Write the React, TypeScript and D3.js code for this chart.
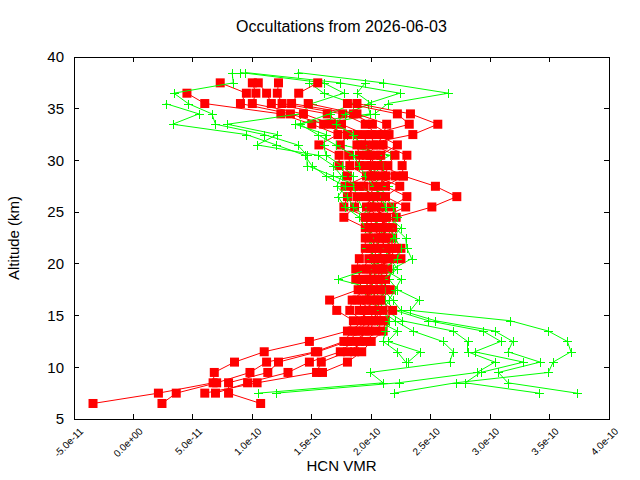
import { useEffect, useRef } from 'react'
import * as d3 from 'd3'

// HCN volume mixing ratio profiles, values in units of 1e-10
const redAltitudes = [
  6.5, 7.5, 8.5, 9.5, 10.5, 11.5, 12.5, 13.5, 14.5, 15.5, 16.5, 17.5, 18.5, 19.5, 20.5, 21.5,
  22.5, 23.5, 24.5, 25.5, 26.5, 27.5, 28.5, 29.5, 30.5, 31.5, 32.5, 33.5, 34.5, 35.5, 36.5, 37.5
]
const greenAltitudes = [
  7.5, 8.5, 9.5, 10.5, 11.5, 12.5, 13.5, 14.5, 15.5, 16.5, 17.5, 18.5, 19.5, 20.5, 21.5, 22.5,
  23.5, 24.5, 25.5, 26.5, 27.5, 28.5, 29.5, 30.5, 31.5, 32.5, 33.5, 34.5, 35.5, 36.5, 37.5, 38.5
]

const red1 = [-0.34, 0.21, 0.67, 0.68, 0.85, 1.10, 1.48, 1.80, 1.85, 1.71, 1.65, 1.89, 1.93, 1.87, 1.90, 1.95, 1.95, 2.03, 1.97, 1.77, 1.80, 1.85, 1.80, 1.73, 1.73, 1.56, 1.72, 1.50, 1.24, 0.60, 0.45, null]
const red2 = [0.24, 0.36, 0.70, 0.98, 1.12, 1.53, 1.77, 1.84, 1.92, 1.82, 1.84, 1.95, 1.87, 1.93, 1.98, 2.02, 2.02, 1.95, 1.77, 1.86, 1.88, 1.78, 1.96, 1.82, 1.81, 1.74, 1.80, 1.60, 1.32, 0.90, 0.95, 0.73]
const red3 = [1.07, 0.80, 0.80, 1.13, 1.22, 1.55, 1.80, 1.90, 1.97, 1.90, 1.92, 2.00, 1.98, 2.00, 2.05, 2.10, 2.10, 2.12, 2.07, 1.96, 2.00, 1.94, 2.09, 1.90, 1.90, 1.88, 1.88, 1.67, 1.43, 1.00, 1.03, 1.00]
const red4 = [null, 0.69, 0.96, 1.30, 1.48, 1.74, 1.85, 1.98, 2.03, 1.98, 2.00, 2.05, 2.05, 2.08, 2.12, 2.17, 2.18, 2.18, 2.04, 2.09, 2.08, 2.02, 2.20, 2.00, 1.99, 1.95, 1.95, 1.75, 1.63, 1.16, 1.12, 1.05]
const red5 = [null, 0.60, 1.04, 1.54, 1.58, 1.80, 1.95, 2.04, 2.10, 2.05, 2.07, 2.12, 2.12, 2.14, 2.20, 2.25, 2.14, 2.08, 2.00, 2.17, 2.30, 2.12, 2.27, 2.09, 2.08, 2.22, 2.05, 1.95, 1.76, 1.25, 1.21, 1.22]
const red6 = [null, null, null, 1.59, 1.80, 1.92, 2.00, 2.10, 2.12, 2.18, 2.08, 2.16, 2.02, 1.96, 2.25, 2.06, 1.98, 2.00, 2.21, 2.51, 2.72, 2.54, 2.27, 2.26, 2.30, 2.10, 2.15, 2.01, 1.85, 1.33, 1.39, 1.55]
const red7 = [null, null, null, null, null, 1.86, 1.90, 1.95, 2.00, 2.10, 1.96, 1.98, 1.95, 2.04, 2.02, 2.14, 2.06, 2.15, 2.10, 2.29, 2.12, 2.24, 2.03, 1.95, 2.04, 1.92, 2.35, 2.56, 2.33, 1.88, null, null]
const red8 = [null, null, null, null, null, null, null, 1.87, 1.95, 1.94, 2.03, 1.92, 2.08, 2.10, 2.08, 1.99, 2.12, 1.98, 1.95, 2.03, 1.95, 2.06, 2.12, 2.14, 2.20, 2.02, 2.00, 2.32, 2.22, 1.80, null, null]
const red9 = [null, null, null, null, null, null, null, null, 2.06, 2.01, 1.88, 2.08, 2.00, 2.06, 2.15, 2.21, 2.08, 2.06, 2.13, 2.00, 2.04, 1.90, 2.00, 2.06, 1.96, 2.05, 2.10, 2.13, 1.88, 1.47, null, null]

const green1 = [2.19, 2.71, 3.49, 3.53, 3.68, 3.65, 3.49, 3.17, 2.33, 2.40, 2.22, 2.15, 2.18, 2.34, 2.30, 2.29, 2.20, 2.10, 2.05, 1.98, 2.14, 2.05, 2.00, 2.16, 1.75, 1.80, 1.60, 2.03, 2.14, 2.65, 2.10, 1.38]
const green2 = [3.73, 3.15, 3.07, 3.42, 3.15, 3.19, 3.04, 2.54, 2.25, 2.18, 2.10, 2.05, 2.12, 2.10, 2.16, 2.12, 2.08, 2.02, 1.92, 1.88, 1.85, 1.85, 1.75, 1.62, 1.60, 1.62, 1.36, 1.99, 1.97, 2.24, 1.74, 0.94]
const green3 = [3.41, 2.79, 2.92, 3.28, 2.87, 3.09, 2.94, 2.48, 2.20, 2.12, 2.05, 1.72, 1.98, 2.05, 2.08, 2.04, 2.12, 1.96, 1.85, 1.80, 1.71, 1.75, 1.68, 1.55, 1.04, 1.21, 0.79, 1.40, 1.50, 1.77, 1.60, 0.90]
const green4 = [1.20, 2.23, 2.89, 3.04, 2.81, 2.81, 2.69, 2.26, 2.12, 2.05, 2.00, 2.02, 2.06, 2.00, 2.02, 1.98, 2.00, 1.92, 1.98, 2.05, 1.90, 1.68, 1.46, 1.46, 1.38, 1.10, 0.69, 0.66, 0.46, 0.34, 0.84, 0.83]
const green5 = [1.05, 2.10, 1.99, 2.66, 2.69, 2.60, 2.35, 2.20, 2.08, 2.00, 1.95, 1.98, 2.02, 2.06, 1.96, 2.02, 1.95, 1.90, 1.78, 1.72, 1.78, 1.62, 1.50, 1.44, 1.20, 0.95, 0.33, 0.55, 0.27, null, null, null]
const green6 = [null, null, null, 2.31, 2.41, 2.14, 2.22, 2.05, 2.02, 2.08, 2.12, 2.10, 2.22, 2.16, 2.12, 2.18, 2.25, 2.15, 2.12, 2.08, 2.02, 1.95, 1.90, 1.85, 1.70, 1.55, 1.40, 1.65, 1.85, 1.60, 1.48, null]
const green7 = [null, null, null, 2.29, 2.22, 2.10, 2.12, 2.15, 2.10, 2.15, 2.20, 2.25, 2.10, 2.22, 2.25, 2.20, 2.15, 2.22, 2.18, 2.12, 2.08, 2.00, 2.10, 2.05, 1.92, 1.85, 1.70, 1.78, 2.00, 1.88, 1.95, null]

const redProfiles = [red1, red2, red3, red4, red5, red6, red7, red8, red9]
const greenProfiles = [green1, green2, green3, green4, green5, green6, green7]

const xTickValues = [-0.5, 0, 0.5, 1.0, 1.5, 2.0, 2.5, 3.0, 3.5, 4.0]
const xTickLabels = ['-5.0e-11', '0.0e+00', '5.0e-11', '1.0e-10', '1.5e-10', '2.0e-10', '2.5e-10', '3.0e-10', '3.5e-10', '4.0e-10']
const yTickValues = [5, 10, 15, 20, 25, 30, 35, 40]

const title = 'Occultations from 2026-06-03'

type Pt = { alt: number; v: number | null }

export default function App() {
  const svgRef = useRef<SVGSVGElement>(null)

  useEffect(() => {
    document.body.style.margin = '0'
    if (!svgRef.current) return
    const svg = d3.select(svgRef.current)
    svg.selectAll('*').remove()

    const width = 640
    const height = 480
    const margin = { top: 57, right: 31, bottom: 61, left: 74 }
    const font = '"Liberation Sans", Arial, sans-serif'

    const x = d3.scaleLinear().domain([-0.5, 4.0]).range([margin.left, width - margin.right])
    const y = d3.scaleLinear().domain([5, 40]).range([height - margin.bottom, margin.top])

    svg.append('rect').attr('width', width).attr('height', height).attr('fill', '#fff')

    const plot = svg.append('g')

    const line = d3
      .line<Pt>()
      .defined(d => d.v != null)
      .x(d => x(d.v as number))
      .y(d => y(d.alt))

    const drawProfile = (vals: (number | null)[], alts: number[], color: string, marker: 'square' | 'plus') => {
      const pts: Pt[] = vals.map((v, i) => ({ alt: alts[i], v }))
      plot.append('path')
        .datum(pts)
        .attr('fill', 'none')
        .attr('stroke', color)
        .attr('stroke-width', 1)
        .attr('d', line)

      const shown = pts.filter(d => d.v != null)
      if (marker === 'square') {
        plot.selectAll(null)
          .data(shown)
          .enter()
          .append('rect')
          .attr('x', d => x(d.v as number) - 4.5)
          .attr('y', d => y(d.alt) - 4.5)
          .attr('width', 9)
          .attr('height', 9)
          .attr('fill', color)
      } else {
        plot.selectAll(null)
          .data(shown)
          .enter()
          .append('path')
          .attr('d', d => {
            const cx = Math.round(x(d.v as number)) + 0.5
            const cy = Math.round(y(d.alt)) + 0.5
            return `M${cx - 4.5},${cy}H${cx + 4.5}M${cx},${cy - 4.5}V${cy + 4.5}`
          })
          .attr('stroke', color)
          .attr('stroke-width', 1)
          .attr('fill', 'none')
      }
    }

    // one red and one green profile per occultation, in plotting order
    const n = Math.max(redProfiles.length, greenProfiles.length)
    for (let i = 0; i < n; i++) {
      if (greenProfiles[i]) drawProfile(greenProfiles[i], greenAltitudes, '#00ff00', 'plus')
      if (redProfiles[i]) drawProfile(redProfiles[i], redAltitudes, '#ff0000', 'square')
    }

    // frame and mirrored ticks
    const x0 = x(-0.5), x1 = x(4.0), y0 = y(5), y1 = y(40)
    const tick = 5
    const axes = svg.append('g').attr('stroke', '#000').attr('stroke-width', 1).attr('shape-rendering', 'crispEdges')
    axes.append('rect')
      .attr('x', x0).attr('y', y1)
      .attr('width', x1 - x0).attr('height', y0 - y1)
      .attr('fill', 'none')

    xTickValues.forEach(v => {
      axes.append('line').attr('x1', x(v)).attr('x2', x(v)).attr('y1', y0).attr('y2', y0 - tick)
      axes.append('line').attr('x1', x(v)).attr('x2', x(v)).attr('y1', y1).attr('y2', y1 + tick)
    })
    yTickValues.forEach(v => {
      axes.append('line').attr('x1', x0).attr('x2', x0 + tick).attr('y1', y(v)).attr('y2', y(v))
      axes.append('line').attr('x1', x1).attr('x2', x1 - tick).attr('y1', y(v)).attr('y2', y(v))
    })

    // tick labels
    svg.append('g')
      .selectAll('text')
      .data(yTickValues)
      .enter()
      .append('text')
      .attr('x', x0 - 10)
      .attr('y', d => y(d))
      .attr('dy', '0.35em')
      .attr('text-anchor', 'end')
      .style('font-family', font)
      .style('font-size', '15px')
      .text(d => String(d))

    svg.append('g')
      .selectAll('text')
      .data(xTickValues)
      .enter()
      .append('text')
      .attr('transform', d => `translate(${x(d) + 5},${y0 + 8}) rotate(-45)`)
      .attr('text-anchor', 'end')
      .attr('dy', '0.7em')
      .style('font-family', font)
      .style('font-size', '10px')
      .text((d, i) => xTickLabels[i])

    svg.append('text')
      .attr('x', (x0 + x1) / 2)
      .attr('y', 32)
      .attr('text-anchor', 'middle')
      .style('font-family', font)
      .style('font-size', '16px')
      .text(title)

    svg.append('text')
      .attr('x', (x0 + x1) / 2)
      .attr('y', 471)
      .attr('text-anchor', 'middle')
      .style('font-family', font)
      .style('font-size', '15px')
      .text('HCN VMR')

    svg.append('text')
      .attr('transform', `translate(19,${(y0 + y1) / 2}) rotate(-90)`)
      .attr('text-anchor', 'middle')
      .style('font-family', font)
      .style('font-size', '15px')
      .text('Altitude (km)')
  }, [])

  return <svg ref={svgRef} width={640} height={480} style={{ display: 'block' }} />
}
